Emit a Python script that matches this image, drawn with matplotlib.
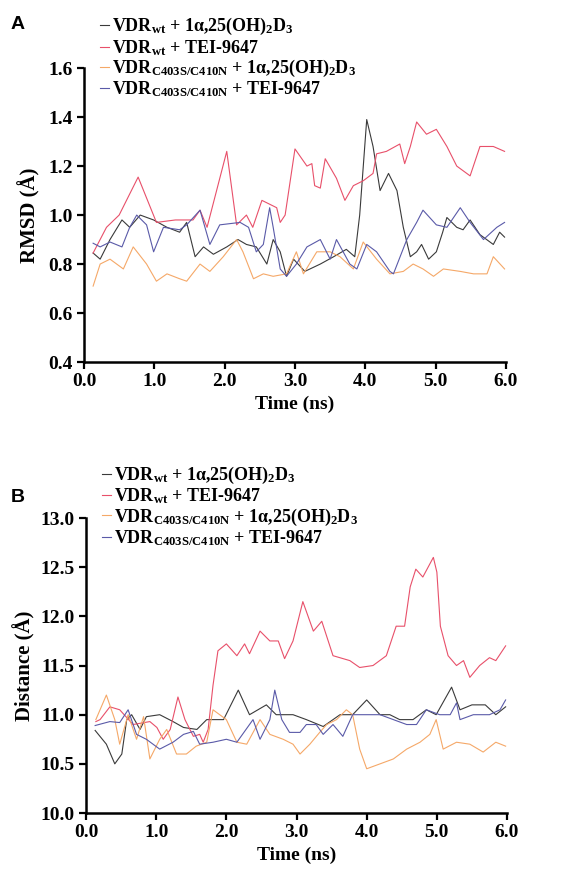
import matplotlib
matplotlib.use('Agg')
from matplotlib import pyplot as plt

plt.rcParams['font.family'] = 'Liberation Serif'
plt.rcParams['font.weight'] = 'bold'
plt.rcParams['mathtext.fontset'] = 'custom'
plt.rcParams['mathtext.rm'] = 'Liberation Serif:bold'
plt.rcParams['mathtext.it'] = 'Liberation Serif:bold'
plt.rcParams['mathtext.bf'] = 'Liberation Serif:bold'
plt.rcParams['mathtext.default'] = 'rm'

labels = [r'VDR$_{wt}$ + 1α,25(OH)$_2$D$_3$',
          r'VDR$_{wt}$ + TEI-9647',
          r'VDR$_{C403S/C410N}$ + 1α,25(OH)$_2$D$_3$',
          r'VDR$_{C403S/C410N}$ + TEI-9647']
colors = ['#3a3a3a', '#e8506a', '#f5a868', '#5a5aa8']

# panel A, RMSD
a_black_t = [0.13, 0.23, 0.37, 0.54, 0.65, 0.80, 0.99, 1.18, 1.36, 1.46, 1.58, 1.70, 1.84, 2.03, 2.19, 2.31,
             2.45, 2.60, 2.69, 2.79, 2.88, 2.98, 3.14, 3.36, 3.55, 3.73, 3.85, 3.92, 4.02, 4.11, 4.21, 4.33,
             4.45, 4.54, 4.64, 4.73, 4.80, 4.90, 5.01, 5.10, 5.16, 5.30, 5.39, 5.49, 5.63, 5.82, 5.91, 5.98]
a_black = [0.845, 0.82, 0.90, 0.98, 0.95, 1.00, 0.98, 0.95, 0.93, 0.97, 0.83, 0.87, 0.84, 0.87, 0.90, 0.88,
           0.87, 0.80, 0.90, 0.85, 0.75, 0.82, 0.77, 0.80, 0.83, 0.86, 0.83, 1.00, 1.39, 1.28, 1.10, 1.17,
           1.10, 0.95, 0.83, 0.85, 0.88, 0.82, 0.85, 0.93, 0.99, 0.95, 0.94, 0.98, 0.92, 0.88, 0.93, 0.91]

a_red_t = [0.13, 0.32, 0.50, 0.77, 1.03, 1.30, 1.55, 1.65, 1.75, 2.03, 2.17, 2.31, 2.40, 2.53, 2.74, 2.79,
           2.86, 3.00, 3.17, 3.24, 3.28, 3.36, 3.43, 3.59, 3.71, 3.83, 3.97, 4.11, 4.16, 4.30, 4.49, 4.56,
           4.64, 4.73, 4.87, 5.01, 5.16, 5.30, 5.49, 5.63, 5.82, 5.98]
a_red = [0.845, 0.95, 1.00, 1.155, 0.97, 0.98, 0.98, 1.02, 0.95, 1.26, 0.96, 1.00, 0.95, 1.06, 1.03, 0.97,
         1.00, 1.27, 1.20, 1.21, 1.12, 1.11, 1.23, 1.15, 1.06, 1.12, 1.14, 1.17, 1.25, 1.26, 1.29, 1.21,
         1.28, 1.38, 1.33, 1.35, 1.28, 1.20, 1.16, 1.28, 1.28, 1.26]

a_orange_t = [0.13, 0.23, 0.37, 0.56, 0.70, 0.89, 1.03, 1.18, 1.36, 1.46, 1.65, 1.79, 1.98, 2.17, 2.26, 2.41,
              2.55, 2.69, 2.88, 3.02, 3.12, 3.31, 3.50, 3.64, 3.83, 3.97, 4.16, 4.35, 4.54, 4.68, 4.82, 4.97,
              5.11, 5.35, 5.54, 5.73, 5.82, 5.98]
a_orange = [0.71, 0.80, 0.82, 0.78, 0.87, 0.80, 0.73, 0.76, 0.74, 0.73, 0.80, 0.77, 0.83, 0.90, 0.85, 0.74,
            0.76, 0.75, 0.76, 0.85, 0.76, 0.85, 0.85, 0.83, 0.78, 0.89, 0.82, 0.76, 0.77, 0.80, 0.78, 0.75,
            0.78, 0.77, 0.76, 0.76, 0.83, 0.78]

a_blue_t = [0.13, 0.23, 0.37, 0.54, 0.65, 0.75, 0.89, 0.99, 1.13, 1.36, 1.46, 1.65, 1.79, 1.93, 2.22, 2.34,
            2.45, 2.55, 2.64, 2.69, 2.79, 2.88, 3.02, 3.17, 3.36, 3.50, 3.59, 3.78, 3.88, 4.02, 4.16, 4.35,
            4.40, 4.59, 4.73, 4.82, 5.01, 5.16, 5.35, 5.49, 5.68, 5.87, 5.98]
a_blue = [0.885, 0.87, 0.89, 0.87, 0.95, 1.00, 0.96, 0.85, 0.95, 0.94, 0.96, 1.02, 0.88, 0.96, 0.97, 0.95,
          0.85, 0.88, 1.03, 0.95, 0.78, 0.75, 0.80, 0.87, 0.90, 0.82, 0.90, 0.80, 0.78, 0.88, 0.85, 0.77,
          0.76, 0.90, 0.97, 1.02, 0.96, 0.95, 1.03, 0.97, 0.90, 0.95, 0.97]

# panel B, distance
b_black_t = [0.13, 0.29, 0.41, 0.51, 0.58, 0.65, 0.77, 0.86, 1.05, 1.24, 1.39, 1.58, 1.72, 1.96, 2.17, 2.33,
             2.57, 2.71, 2.95, 3.14, 3.38, 3.62, 3.80, 4.00, 4.19, 4.33, 4.47, 4.66, 4.85, 4.99, 5.21, 5.33,
             5.50, 5.69, 5.84, 5.98]
b_black = [10.84, 10.70, 10.50, 10.60, 10.95, 11.00, 10.85, 10.98, 11.00, 10.93, 10.87, 10.85, 10.95, 10.95,
           11.25, 11.00, 11.10, 11.00, 11.00, 10.95, 10.88, 11.00, 11.00, 11.15, 11.00, 11.00, 10.95, 10.95,
           11.05, 11.00, 11.28, 11.05, 11.10, 11.10, 11.00, 11.08]

b_red_t = [0.14, 0.20, 0.34, 0.48, 0.67, 0.91, 1.01, 1.10, 1.20, 1.31, 1.41, 1.53, 1.62, 1.67, 1.74, 1.81,
           1.88, 2.00, 2.15, 2.26, 2.33, 2.48, 2.62, 2.74, 2.83, 2.95, 3.09, 3.24, 3.36, 3.52, 3.76, 3.90,
           4.09, 4.28, 4.42, 4.54, 4.62, 4.70, 4.80, 4.95, 5.00, 5.05, 5.16, 5.28, 5.38, 5.47, 5.61, 5.75,
           5.84, 5.98]
b_red = [10.93, 10.95, 11.08, 11.05, 10.90, 10.93, 10.87, 10.75, 10.85, 11.18, 10.95, 10.78, 10.80, 10.72,
         10.85, 11.30, 11.65, 11.72, 11.60, 11.72, 11.62, 11.85, 11.75, 11.75, 11.57, 11.75, 12.15, 11.85,
         11.95, 11.60, 11.55, 11.48, 11.50, 11.60, 11.90, 11.90, 12.30, 12.48, 12.40, 12.60, 12.45, 11.90,
         11.60, 11.50, 11.55, 11.38, 11.50, 11.58, 11.55, 11.70]

b_orange_t = [0.14, 0.29, 0.41, 0.48, 0.60, 0.72, 0.82, 0.91, 1.05, 1.15, 1.29, 1.43, 1.57, 1.72, 1.81, 2.00,
              2.15, 2.29, 2.48, 2.62, 2.81, 2.95, 3.05, 3.19, 3.33, 3.43, 3.57, 3.71, 3.80, 3.90, 4.00, 4.19,
              4.38, 4.57, 4.76, 4.90, 4.99, 5.09, 5.28, 5.47, 5.66, 5.84, 5.98]
b_orange = [10.95, 11.20, 10.95, 10.70, 11.00, 10.75, 10.98, 10.55, 10.75, 10.85, 10.60, 10.60, 10.68, 10.72,
            11.05, 10.95, 10.72, 10.70, 10.95, 10.80, 10.75, 10.70, 10.60, 10.70, 10.82, 10.90, 10.95, 11.05,
            11.00, 10.65, 10.45, 10.50, 10.55, 10.65, 10.72, 10.80, 10.95, 10.65, 10.72, 10.70, 10.62, 10.72,
            10.68]

b_blue_t = [0.13, 0.34, 0.48, 0.60, 0.72, 0.86, 1.05, 1.24, 1.39, 1.53, 1.62, 1.81, 2.00, 2.15, 2.38, 2.48,
            2.62, 2.69, 2.79, 2.90, 3.05, 3.14, 3.28, 3.38, 3.52, 3.66, 3.80, 3.99, 4.19, 4.38, 4.57, 4.71,
            4.85, 5.04, 5.19, 5.28, 5.33, 5.52, 5.75, 5.90, 5.98]
b_blue = [10.89, 10.93, 10.92, 11.05, 10.80, 10.75, 10.65, 10.72, 10.80, 10.83, 10.70, 10.72, 10.75, 10.72,
          10.95, 10.75, 10.95, 11.25, 10.95, 10.82, 10.82, 10.90, 10.90, 10.80, 10.90, 10.78, 11.00, 11.00,
          11.00, 10.95, 10.90, 10.90, 11.05, 11.00, 11.00, 11.12, 10.95, 11.00, 11.00, 11.05, 11.15]

fig = plt.figure(figsize=(5.84, 8.73), dpi=100)
axA = fig.add_axes([0.1438, 0.5853, 0.7226, 0.3367])
axB = fig.add_axes([0.1473, 0.0687, 0.7209, 0.3379])

seriesA = [(a_black_t, a_black), (a_red_t, a_red), (a_orange_t, a_orange), (a_blue_t, a_blue)]
seriesB = [(b_black_t, b_black), (b_red_t, b_red), (b_orange_t, b_orange), (b_blue_t, b_blue)]

for ax, series, ly in [(axA, seriesA, 0.87), (axB, seriesB, 0.875)]:
    for (t, v), c, lab in zip(series, colors, labels):
        ax.plot(t, v, color=c, lw=0.8, label=lab)
    ax.spines['top'].set_visible(False)
    ax.spines['right'].set_visible(False)
    ax.spines['left'].set_linewidth(1.8)
    ax.spines['bottom'].set_linewidth(1.8)
    ax.tick_params(direction='out', length=5, width=1.6, labelsize=14, pad=3)
    ax.set_xlim(0, 6)
    ax.set_xticks([0, 1, 2, 3, 4, 5, 6])
    ax.set_xticklabels(['0.0', '1.0', '2.0', '3.0', '4.0', '5.0', '6.0'])
    ax.set_xlabel('Time (ns)', fontsize=14, fontweight='bold', labelpad=4)
    ax.legend(loc='lower left', bbox_to_anchor=(0.02, ly), frameon=False, fontsize=13,
              handlelength=0.5, handletextpad=0.2, labelspacing=0.02, borderaxespad=0)

axA.set_ylim(0.4, 1.6)
axA.set_yticks([0.4, 0.6, 0.8, 1.0, 1.2, 1.4, 1.6])
axA.set_yticklabels(['0.4', '0.6', '0.8', '1.0', '1.2', '1.4', '1.6'])
axA.set_ylabel('RMSD (Å)', fontsize=15, fontweight='bold', labelpad=6)

axB.set_ylim(10.0, 13.0)
axB.set_yticks([10.0, 10.5, 11.0, 11.5, 12.0, 12.5, 13.0])
axB.set_yticklabels(['10.0', '10.5', '11.0', '11.5', '12.0', '12.5', '13.0'])
axB.set_ylabel('Distance (Å)', fontsize=15, fontweight='bold', labelpad=4)

fig.text(0.018, 0.972, 'A', fontsize=14, fontweight='bold', family='Liberation Sans', va='center')
fig.text(0.018, 0.43, 'B', fontsize=14, fontweight='bold', family='Liberation Sans', va='center')

fig.savefig('out.png', dpi=100)
